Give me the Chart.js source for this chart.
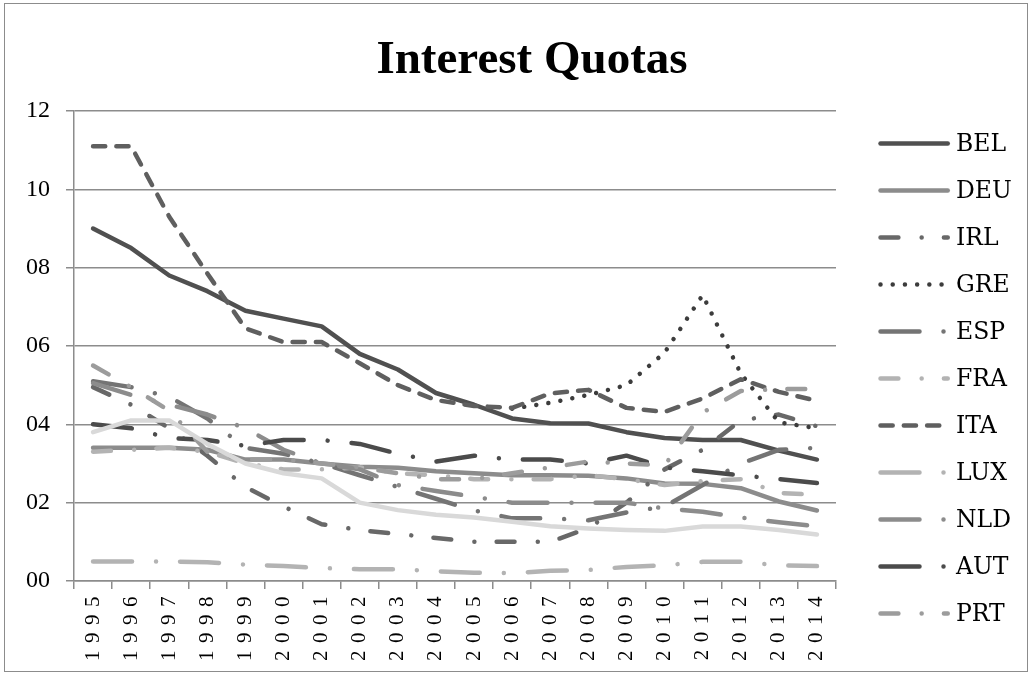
<!DOCTYPE html>
<html>
<head>
<meta charset="utf-8">
<script src="https://cdn.jsdelivr.net/npm/chart.js@4.4.1/dist/chart.umd.min.js"></script>
<style>
html,body{margin:0;padding:0;background:#fff;}
#wrap{width:1032px;height:675px;position:relative;}
canvas{display:block;}
</style>
</head>
<body>
<div id="wrap"><canvas id="c" width="1032" height="675"></canvas></div>
<script>
// ---------- data ----------
const years = ['1995','1996','1997','1998','1999','2000','2001','2002','2003','2004',
               '2005','2006','2007','2008','2009','2010','2011','2012','2013','2014'];
const yTickLabels = ['00','02','04','06','08','10','12'];

const BEL = [9.0, 8.5, 7.8, 7.4, 6.9, 6.7, 6.5, 5.8, 5.4, 4.8, 4.5, 4.15, 4.03, 4.02, 3.8, 3.65, 3.6, 3.6, 3.33, 3.1];
const DEU = [3.4, 3.4, 3.4, 3.35, 3.1, 3.1, 3.0, 2.92, 2.89, 2.8, 2.75, 2.7, 2.7, 2.69, 2.62, 2.49, 2.48, 2.37, 2.03, 1.8];
const IRL = [4.95, 4.5, 3.9, 3.2, 2.4, 1.9, 1.45, 1.3, 1.2, 1.1, 1.0, 1.0, 1.0, 1.35, 2.0, 2.85, 3.35, 4.1, 4.25, 3.95];
const GRE = [null, null, null, null, null, null, null, null, null, null, null, 4.4, 4.55, 4.75, 5.0, 5.83, 7.3, 5.3, 4.05, 3.9];
const ESP = [5.1, 4.95, 4.7, 4.15, 3.4, 3.25, 3.0, 2.7, 2.4, 2.1, 1.8, 1.6, 1.6, 1.55, 1.75, 1.9, 2.45, 3.0, 3.35, 3.4];
const FRA = [3.3, 3.35, 3.4, 3.3, 3.0, 2.85, 2.85, 2.9, 2.75, 2.7, 2.6, 2.6, 2.6, 2.7, 2.6, 2.45, 2.55, 2.6, 2.25, 2.2];
const ITA = [11.1, 11.1, 9.3, 7.85, 6.45, 6.1, 6.1, 5.56, 5.0, 4.62, 4.47, 4.42, 4.79, 4.88, 4.42, 4.32, 4.66, 5.15, 4.83, 4.6];
const LUX = [0.5, 0.5, 0.5, 0.48, 0.42, 0.38, 0.33, 0.3, 0.3, 0.25, 0.21, 0.2, 0.26, 0.28, 0.36, 0.4, 0.49, 0.49, 0.4, 0.38];
const NLD = [5.05, 4.75, 4.5, 4.25, 3.9, 3.35, 3.0, 2.85, 2.45, 2.3, 2.15, 2.0, 2.0, 2.0, 2.0, 1.85, 1.77, 1.62, 1.5, 1.4];
const AUT = [4.0, 3.9, 3.65, 3.6, 3.45, 3.6, 3.6, 3.5, 3.25, 3.05, 3.2, 3.1, 3.1, 3.0, 3.2, 2.9, 2.8, 2.7, 2.6, 2.5];
const PRT = [5.5, 4.95, 4.35, 3.3, 3.1, 3.1, 3.0, 2.9, 2.75, 2.6, 2.6, 2.75, 2.9, 3.05, 3.0, 2.95, 4.3, 4.85, 4.9, 4.9];
const FIN = [3.8, 4.1, 4.1, 3.5, 3.0, 2.75, 2.62, 2.0, 1.81, 1.69, 1.62, 1.51, 1.4, 1.34, 1.3, 1.28, 1.39, 1.39, 1.3, 1.19];

const seriesNames  = ['BEL','DEU','IRL','GRE','ESP','FRA','ITA','LUX','NLD','AUT','PRT','FIN'];
const seriesValues = [BEL, DEU, IRL, GRE, ESP, FRA, ITA, LUX, NLD, AUT, PRT, FIN];
const legendNames  = ['BEL','DEU','IRL','GRE','ESP','FRA','ITA','LUX','NLD','AUT','PRT'];

// ---------- styles ----------
const LW = 4.5;
const DASH_LDOT  = [17.9, 23.25, 0.01, 22.25];
const DASH_LLDOT = [39, 24, 0.01, 24];
const DASH_DASH  = [12.2, 11.1];
const DASH_DOT   = [0.01, 12.2];
const styles = {
  BEL: {color:'#505050', dash: []},
  DEU: {color:'#8c8c8c', dash: []},
  IRL: {color:'#686868', dash: DASH_LDOT},
  GRE: {color:'#3c3c3c', dash: DASH_DOT},
  ESP: {color:'#747474', dash: DASH_LLDOT},
  FRA: {color:'#b3b3b3', dash: DASH_LDOT},
  ITA: {color:'#5f5f5f', dash: DASH_DASH},
  LUX: {color:'#b3b3b3', dash: DASH_LLDOT},
  NLD: {color:'#8c8c8c', dash: DASH_LLDOT},
  AUT: {color:'#4b4b4b', dash: DASH_LLDOT},
  PRT: {color:'#9c9c9c', dash: DASH_LDOT},
  FIN: {color:'#d9d9d9', dash: []}
};
const SERIF = '"Liberation Serif", "Times New Roman", serif';
const SERIF_WIDE = '"DejaVu Serif", "Liberation Serif", serif';
const AXIS_COLOR = '#8c8c8c';
const X_LETTER_SPACING = 7.5;

// x scale whose labels are drawn with letter spacing
class SpacedCategoryScale extends Chart.CategoryScale {
  drawLabels(chartArea) {
    const ctx = this.ctx;
    ctx.save();
    if ('letterSpacing' in ctx) ctx.letterSpacing = X_LETTER_SPACING + 'px';
    super.drawLabels(chartArea);
    ctx.restore();
  }
}
SpacedCategoryScale.id = 'spacedCategory';
SpacedCategoryScale.defaults = Chart.CategoryScale.defaults;
Chart.register(SpacedCategoryScale);

const framePlugin = {
  id: 'frame',
  beforeDraw(chart) {
    const ctx = chart.ctx;
    ctx.save();
    ctx.fillStyle = '#fff';
    ctx.fillRect(0, 0, chart.width, chart.height);
    ctx.strokeStyle = '#8c8c8c';
    ctx.lineWidth = 1;
    ctx.strokeRect(4.5, 3.5, 1023, 668);
    ctx.restore();
  }
};

const titlePlugin = {
  id: 'titleText',
  afterDraw(chart) {
    const ctx = chart.ctx;
    ctx.save();
    ctx.font = 'bold 47px ' + SERIF;
    ctx.fillStyle = '#000';
    ctx.textAlign = 'center';
    ctx.textBaseline = 'alphabetic';
    ctx.fillText('Interest Quotas', 532, 73);
    ctx.restore();
  }
};

const legendPlugin = {
  id: 'sideLegend',
  afterDraw(chart) {
    const ctx = chart.ctx;
    ctx.save();
    ctx.font = '23.5px ' + SERIF_WIDE;
    ctx.textBaseline = 'middle';
    ctx.textAlign = 'left';
    legendNames.forEach((name, i) => {
      const y = 143.5 + i * 47;
      const st = styles[name];
      ctx.strokeStyle = st.color;
      ctx.lineWidth = LW;
      ctx.lineCap = 'round';
      ctx.setLineDash(st.dash);
      ctx.lineDashOffset = 0;
      ctx.beginPath();
      ctx.moveTo(880.5, y);
      ctx.lineTo(947.75, y);
      ctx.stroke();
      ctx.setLineDash([]);
      ctx.fillStyle = '#000';
      ctx.fillText(name, 956, y + 1);
    });
    ctx.restore();
  }
};

const datasets = seriesNames.map((name, i) => ({
  label: name,
  data: seriesValues[i],
  borderColor: styles[name].color,
  backgroundColor: styles[name].color,
  borderWidth: LW,
  borderDash: styles[name].dash,
  borderCapStyle: 'round',
  borderJoinStyle: 'round',
  pointRadius: 0,
  pointHoverRadius: 0,
  tension: 0,
  fill: false,
  spanGaps: false,
  order: seriesNames.length - i
}));

new Chart(document.getElementById('c'), {
  type: 'line',
  data: { labels: years, datasets },
  options: {
    responsive: false,
    animation: false,
    devicePixelRatio: 1,
    layout: { padding: { left: 0, right: 196, top: 111, bottom: 0 } },
    plugins: {
      legend: { display: false },
      title: { display: false },
      tooltip: { enabled: false }
    },
    scales: {
      x: {
        type: 'spacedCategory',
        offset: true,
        grid: { offset: true, drawOnChartArea: false, drawTicks: true, tickLength: 8, color: AXIS_COLOR, lineWidth: 1.5 },
        border: { color: AXIS_COLOR, width: 1.5 },
        ticks: { autoSkip: false, maxRotation: 90, minRotation: 90, padding: 0,
                 font: { family: SERIF, size: 21 }, color: '#000' },
        afterFit: (s) => { s.height = 94; }
      },
      y: {
        min: 0, max: 12,
        grid: { color: AXIS_COLOR, lineWidth: 1.5, drawTicks: true, tickLength: 8 },
        border: { color: AXIS_COLOR, width: 1.5 },
        ticks: { stepSize: 2, padding: 16, color: '#000', font: { family: SERIF, size: 24 },
                 callback: (v) => yTickLabels[Math.round(v / 2)] },
        afterFit: (s) => { s.width = 74; }
      }
    }
  },
  plugins: [framePlugin, titlePlugin, legendPlugin]
});
</script>
</body>
</html>
